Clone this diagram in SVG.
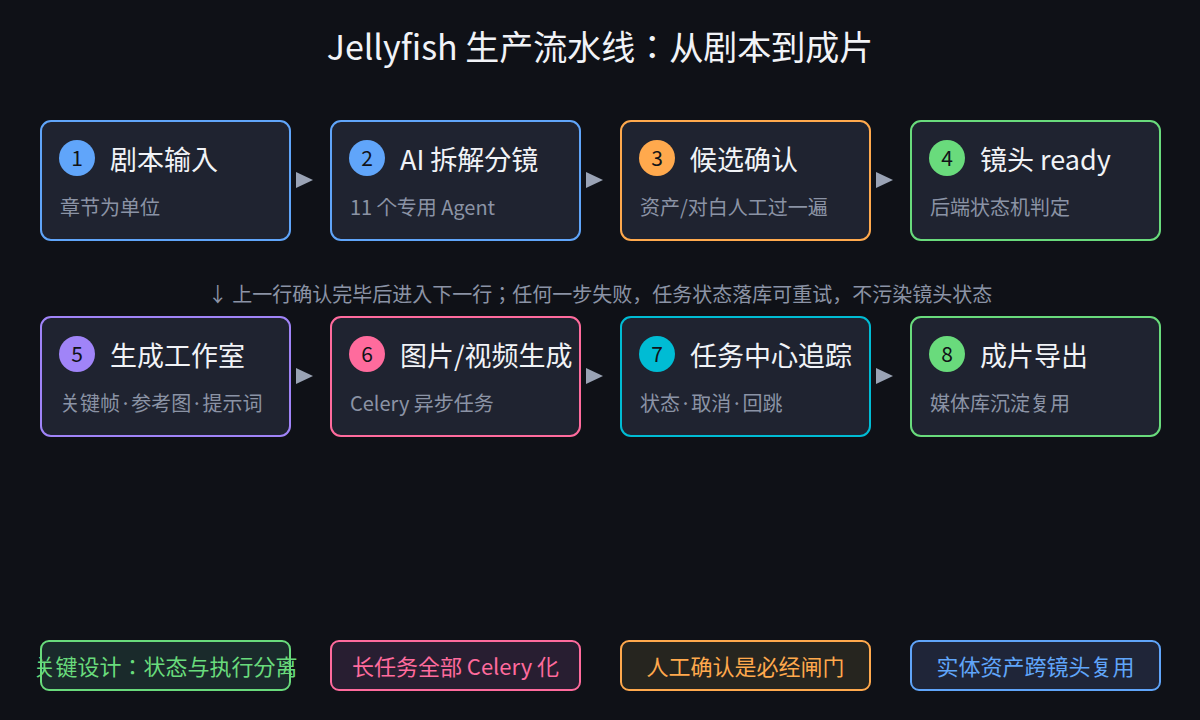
<svg xmlns="http://www.w3.org/2000/svg" width="1200" height="720" viewBox="0 0 1200 720">
<defs>
<style>
text{font-family:"Noto Sans CJK JP","Noto Sans CJK SC",sans-serif;}
.node{fill:#1f2330;stroke-width:2;}
.title{fill:#f1f3f7;font-size:27px;}
.sub{fill:#8b93a5;font-size:20px;}
.num{fill:#111318;font-size:21px;text-anchor:middle;}
.arrow{fill:#9aa3b5;}
.tag{stroke-width:2;}
.tagt{font-size:22px;text-anchor:middle;}
</style>
</defs>
<rect width="1200" height="720" fill="#0f1117"/>
<text x="600" y="60" font-size="34" fill="#f1f3f7" text-anchor="middle">Jellyfish 生产流水线：从剧本到成片</text>

<g id="n1"><rect class="node" x="41" y="121" width="249" height="119" rx="10" stroke="#60a5fa"/><circle cx="77" cy="158" r="18" fill="#60a5fa"/><text class="num" x="77" y="165.5">1</text><text class="title" x="110" y="169.5">剧本输入</text><text class="sub" x="60" y="215">章节为单位</text></g>
<g id="n2"><rect class="node" x="331" y="121" width="249" height="119" rx="10" stroke="#60a5fa"/><circle cx="367" cy="158" r="18" fill="#60a5fa"/><text class="num" x="367" y="165.5">2</text><text class="title" x="400" y="169.5">AI 拆解分镜</text><text class="sub" x="350" y="215">11 个专用 Agent</text></g>
<g id="n3"><rect class="node" x="621" y="121" width="249" height="119" rx="10" stroke="#ffa94d"/><circle cx="657" cy="158" r="18" fill="#ffa94d"/><text class="num" x="657" y="165.5">3</text><text class="title" x="690" y="169.5">候选确认</text><text class="sub" x="640" y="215">资产/对白人工过一遍</text></g>
<g id="n4"><rect class="node" x="911" y="121" width="249" height="119" rx="10" stroke="#69db7c"/><circle cx="947" cy="158" r="18" fill="#69db7c"/><text class="num" x="947" y="165.5">4</text><text class="title" x="980" y="169.5">镜头 ready</text><text class="sub" x="930" y="215">后端状态机判定</text></g>

<g id="n5"><rect class="node" x="41" y="317" width="249" height="119" rx="10" stroke="#a084f8"/><circle cx="77" cy="354" r="18" fill="#a084f8"/><text class="num" x="77" y="361.5">5</text><text class="title" x="110" y="365.5">生成工作室</text><text class="sub" x="60" y="411">关键帧·参考图·提示词</text></g>
<g id="n6"><rect class="node" x="331" y="317" width="249" height="119" rx="10" stroke="#ff6b9d"/><circle cx="367" cy="354" r="18" fill="#ff6b9d"/><text class="num" x="367" y="361.5">6</text><text class="title" x="400" y="365.5">图片/视频生成</text><text class="sub" x="350" y="411">Celery 异步任务</text></g>
<g id="n7"><rect class="node" x="621" y="317" width="249" height="119" rx="10" stroke="#00bcd4"/><circle cx="657" cy="354" r="18" fill="#00bcd4"/><text class="num" x="657" y="361.5">7</text><text class="title" x="690" y="365.5">任务中心追踪</text><text class="sub" x="640" y="411">状态·取消·回跳</text></g>
<g id="n8"><rect class="node" x="911" y="317" width="249" height="119" rx="10" stroke="#69db7c"/><circle cx="947" cy="354" r="18" fill="#69db7c"/><text class="num" x="947" y="361.5">8</text><text class="title" x="980" y="365.5">成片导出</text><text class="sub" x="930" y="411">媒体库沉淀复用</text></g>

<g id="connectors">
<polygon class="arrow" points="296,172 313,180 296,188"/>
<polygon class="arrow" points="586,172 603,180 586,188"/>
<polygon class="arrow" points="876,172 893,180 876,188"/>
<polygon class="arrow" points="296,368 313,376 296,384"/>
<polygon class="arrow" points="586,368 603,376 586,384"/>
<polygon class="arrow" points="876,368 893,376 876,384"/>
</g>

<text x="600" y="302" font-size="20" fill="#8b93a5" text-anchor="middle">↓ 上一行确认完毕后进入下一行；任何一步失败，任务状态落库可重试，不污染镜头状态</text>

<g id="tag1"><rect class="tag" x="41" y="641" width="249" height="49" rx="8" fill="#1a2a2b" stroke="#69db7c"/><text class="tagt" x="165.5" y="674.5" fill="#69db7c">关键设计：状态与执行分离</text></g>
<g id="tag2"><rect class="tag" x="331" y="641" width="249" height="49" rx="8" fill="#281e31" stroke="#ff6b9d"/><text class="tagt" x="455.5" y="674.5" fill="#ff6b9d">长任务全部 Celery 化</text></g>
<g id="tag3"><rect class="tag" x="621" y="641" width="249" height="49" rx="8" fill="#26251f" stroke="#ffa94d"/><text class="tagt" x="745.5" y="674.5" fill="#ffa94d">人工确认是必经闸门</text></g>
<g id="tag4"><rect class="tag" x="911" y="641" width="249" height="49" rx="8" fill="#1f2538" stroke="#60a5fa"/><text class="tagt" x="1035.5" y="674.5" fill="#60a5fa">实体资产跨镜头复用</text></g>
</svg>
